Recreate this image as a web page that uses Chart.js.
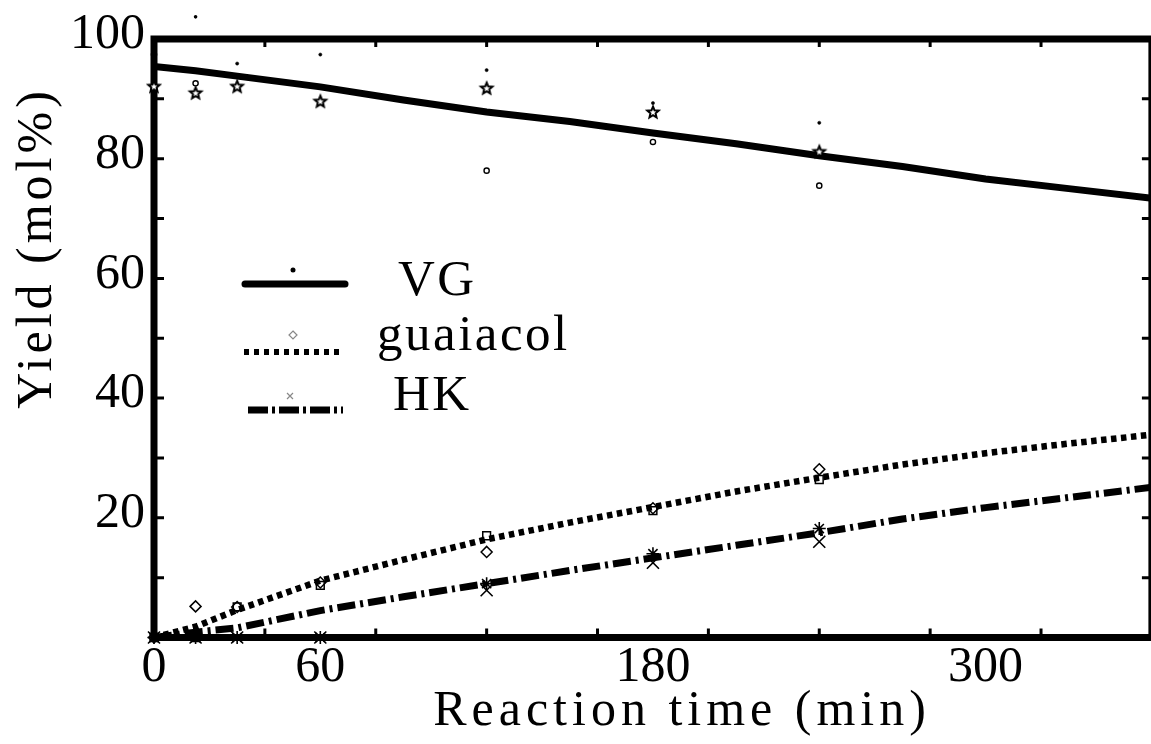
<!DOCTYPE html>
<html>
<head>
<meta charset="utf-8">
<script src="https://cdn.jsdelivr.net/npm/chart.js"></script>
<style>
  html, body { margin: 0; padding: 0; background: #fff; overflow: hidden; }
</style>
</head>
<body>
<canvas id="myChart" width="1162" height="744"></canvas>
<script>
// sampling times of the measured points (min)
const sampleTimes = [0, 15, 30, 60, 120, 180, 240];
// VG, three replicate marker sets
const vgStars   = [92.1, 91.0, 92.1, 89.6, 91.8, 87.8, 81.2];
const vgDots    = [98.8, 103.7, 95.9, 97.4, 94.8, 89.3, 86.0];
const vgCircles = [97.4, 92.6, null, null, 78.0, 82.8, 75.5];
// guaiacol
const guaDiamonds = [0, 5.2, 5.1, 9.2, 14.3, 21.6, 28.1];
const guaSquares  = [0, 0, 5.1, 8.7, 17.0, 21.2, 26.4];
// HK
const hkAsterisks = [0, 0, 0, 0, 9.0, 14.0, 18.2];
const hkCrosses   = [0, 0, 0, 0, 7.9, 12.5, 16.0];

// model curves
const fitTimes = [0, 15, 30, 60, 90, 120, 150, 180, 210, 240, 270, 300, 330, 360];
const vgFit  = [95.4, 94.7, 93.8, 92.0, 89.8, 87.8, 86.2, 84.3, 82.5, 80.5, 78.7, 76.6, 75.0, 73.4];
const guaFit = [0, 1.8, 4.6, 9.5, 13.0, 16.4, 19.2, 21.8, 24.4, 26.7, 28.9, 30.8, 32.4, 33.9];
const hkFit  = [0, 0.9, 1.6, 4.5, 6.8, 9.0, 11.2, 13.3, 15.4, 17.5, 19.8, 21.7, 23.4, 25.1];

const xTickLabels = [0, 60, 180, 300];
const yTickLabels = [20, 40, 60, 80, 100];
const legendNames = ['VG', 'guaiacol', 'HK'];

const FONT = '"Liberation Serif", "Times New Roman", serif';
const Y_MAX = 100;

function pts(xs, ys) {
  return xs.map((x, i) => ({ x: x, y: ys[i] }));
}

// open five point star used as marker
function starImage(r, lw) {
  const c = document.createElement('canvas');
  const s = Math.ceil(2 * r + 2 * lw + 2);
  c.width = s; c.height = s;
  const g = c.getContext('2d');
  g.translate(s / 2, s / 2 + 0.5);
  g.beginPath();
  for (let i = 0; i < 10; i++) {
    const rr = i % 2 ? r * 0.45 : r;
    const a = -Math.PI / 2 + i * Math.PI / 5;
    g.lineTo(rr * Math.cos(a), rr * Math.sin(a));
  }
  g.closePath();
  g.fillStyle = '#fff';
  g.fill();
  g.lineWidth = lw;
  g.strokeStyle = '#000';
  g.stroke();
  return c;
}

function lineDs(label, data, dash, width, cap) {
  return {
    label: label,
    data: pts(fitTimes, data),
    borderColor: '#000',
    borderWidth: width,
    borderDash: dash,
    borderCapStyle: cap,
    pointRadius: 0,
    tension: 0,
    fill: false
  };
}

function markDs(label, data, style, radius, bw, bg) {
  return {
    label: label,
    data: pts(sampleTimes, data),
    showLine: false,
    pointStyle: style,
    pointRadius: radius,
    pointBorderWidth: bw,
    pointBorderColor: '#000',
    pointBackgroundColor: bg,
    clip: false
  };
}

// frame with inward tick marks, drawn under the markers
const framePlugin = {
  id: 'frame',
  beforeDatasetsDraw(chart) {
    const { ctx, chartArea: a, scales: { x, y } } = chart;
    ctx.save();
    ctx.strokeStyle = '#000';
    ctx.lineWidth = 3;
    ctx.beginPath();
    x.ticks.forEach(t => {
      if (t.value % 40 !== 0 || t.value === 0 || t.value === 360) return;
      const px = x.getPixelForValue(t.value);
      ctx.moveTo(px, a.bottom); ctx.lineTo(px, a.bottom - 9);
      ctx.moveTo(px, a.top); ctx.lineTo(px, a.top + 8);
    });
    y.ticks.forEach(t => {
      if (t.value === 0 || t.value === 100) return;
      const py = y.getPixelForValue(t.value);
      ctx.moveTo(a.left, py); ctx.lineTo(a.left + 10, py);
      ctx.moveTo(a.right, py); ctx.lineTo(a.right - 10, py);
    });
    ctx.stroke();
    ctx.lineWidth = 7;
    ctx.strokeRect(a.left, a.top, a.right - a.left, a.bottom - a.top);
    ctx.restore();
  },
  // chart.js skips points outside the area, so the VG dot above 100 is placed here
  afterDatasetsDraw(chart) {
    const { ctx, scales: { x, y } } = chart;
    ctx.save();
    ctx.fillStyle = '#000';
    vgDots.forEach((v, i) => {
      if (v === null || v <= Y_MAX) return;
      ctx.beginPath();
      ctx.arc(x.getPixelForValue(sampleTimes[i]), y.getPixelForValue(v), 1.8, 0, Math.PI * 2);
      ctx.fill();
    });
    ctx.restore();
  }
};

// axis titles and the legend box
const textPlugin = {
  id: 'texts',
  afterDraw(chart) {
    const ctx = chart.ctx;
    ctx.save();
    ctx.fillStyle = '#000';
    ctx.strokeStyle = '#000';
    ctx.font = '50px ' + FONT;
    ctx.textBaseline = 'alphabetic';

    ctx.letterSpacing = '5px';
    ctx.textAlign = 'center';
    ctx.fillText('Reaction time (min)', 682, 725);

    ctx.letterSpacing = '4px';
    ctx.save();
    ctx.translate(51, 248);
    ctx.rotate(-Math.PI / 2);
    ctx.fillText('Yield (mol%)', 0, 0);
    ctx.restore();

    // legend
    ctx.letterSpacing = '2.5px';
    ctx.textAlign = 'left';
    ctx.font = '51px ' + FONT;
    ctx.fillText(legendNames[0], 398, 295);
    ctx.fillText(legendNames[1], 377, 350);
    ctx.fillText(legendNames[2], 393, 410);

    ctx.lineWidth = 7;
    ctx.lineCap = 'round';
    ctx.beginPath(); ctx.moveTo(245, 284); ctx.lineTo(345, 284); ctx.stroke();
    ctx.beginPath(); ctx.arc(293, 270, 2.5, 0, Math.PI * 2); ctx.fill();

    ctx.lineCap = 'butt';
    ctx.lineWidth = 6;
    ctx.setLineDash([5, 5]);
    ctx.beginPath(); ctx.moveTo(244, 352); ctx.lineTo(340, 352); ctx.stroke();

    ctx.lineWidth = 7;
    ctx.setLineDash([20, 4, 3, 4]);
    ctx.beginPath(); ctx.moveTo(248, 410); ctx.lineTo(343, 410); ctx.stroke();
    ctx.setLineDash([]);

    ctx.strokeStyle = '#888';
    ctx.lineWidth = 1.2;
    ctx.beginPath();
    ctx.moveTo(293, 331); ctx.lineTo(297, 335); ctx.lineTo(293, 339); ctx.lineTo(289, 335); ctx.closePath();
    ctx.stroke();
    ctx.beginPath();
    ctx.moveTo(287, 393); ctx.lineTo(293, 399);
    ctx.moveTo(293, 393); ctx.lineTo(287, 399);
    ctx.stroke();
    ctx.restore();
  }
};

const ctx = document.getElementById('myChart').getContext('2d');
new Chart(ctx, {
  type: 'line',
  data: {
    datasets: [
      markDs('VG stars', vgStars, starImage(6, 2), 6, 2, '#fff'),
      markDs('VG dots', vgDots, 'circle', 1.6, 0.5, '#000'),
      markDs('VG circles', vgCircles, 'circle', 2.6, 1.4, 'rgba(0,0,0,0)'),
      markDs('guaiacol diamonds', guaDiamonds, 'rectRot', 5.5, 1.5, 'rgba(0,0,0,0)'),
      markDs('guaiacol squares', guaSquares, 'rect', 5.5, 1.5, 'rgba(0,0,0,0)'),
      markDs('HK asterisks', hkAsterisks, 'star', 6.5, 1.6, 'rgba(0,0,0,0)'),
      markDs('HK crosses', hkCrosses, 'crossRot', 8.5, 1.6, 'rgba(0,0,0,0)'),
      lineDs(legendNames[0], vgFit, [], 7, 'round'),
      lineDs(legendNames[1], guaFit, [5.5, 4.5], 6.5, 'butt'),
      lineDs(legendNames[2], hkFit, [18, 5, 3, 5], 7, 'butt')
    ]
  },
  options: {
    responsive: false,
    animation: false,
    layout: { padding: { top: 34.5, right: 4, left: 0, bottom: 0 } },
    plugins: { legend: { display: false }, tooltip: { enabled: false } },
    scales: {
      x: {
        type: 'linear',
        min: 0,
        max: 360,
        ticks: {
          stepSize: 20,
          autoSkip: false,
          maxRotation: 0,
          padding: 0,
          color: '#000',
          font: { family: FONT, size: 50 },
          callback: v => xTickLabels.includes(v) ? String(v) : ''
        },
        grid: { display: false, drawTicks: false },
        border: { display: false },
        afterFit: s => { s.height = 106.5; }
      },
      y: {
        min: 0,
        max: Y_MAX,
        ticks: {
          stepSize: 10,
          autoSkip: false,
          padding: 9,
          labelOffset: -4,
          color: '#000',
          font: { family: FONT, size: 50 },
          callback: v => yTickLabels.includes(v) ? String(v) : ''
        },
        grid: { display: false, drawTicks: false },
        border: { display: false },
        afterFit: s => { s.width = 154; }
      }
    }
  },
  plugins: [framePlugin, textPlugin]
});
</script>
</body>
</html>
